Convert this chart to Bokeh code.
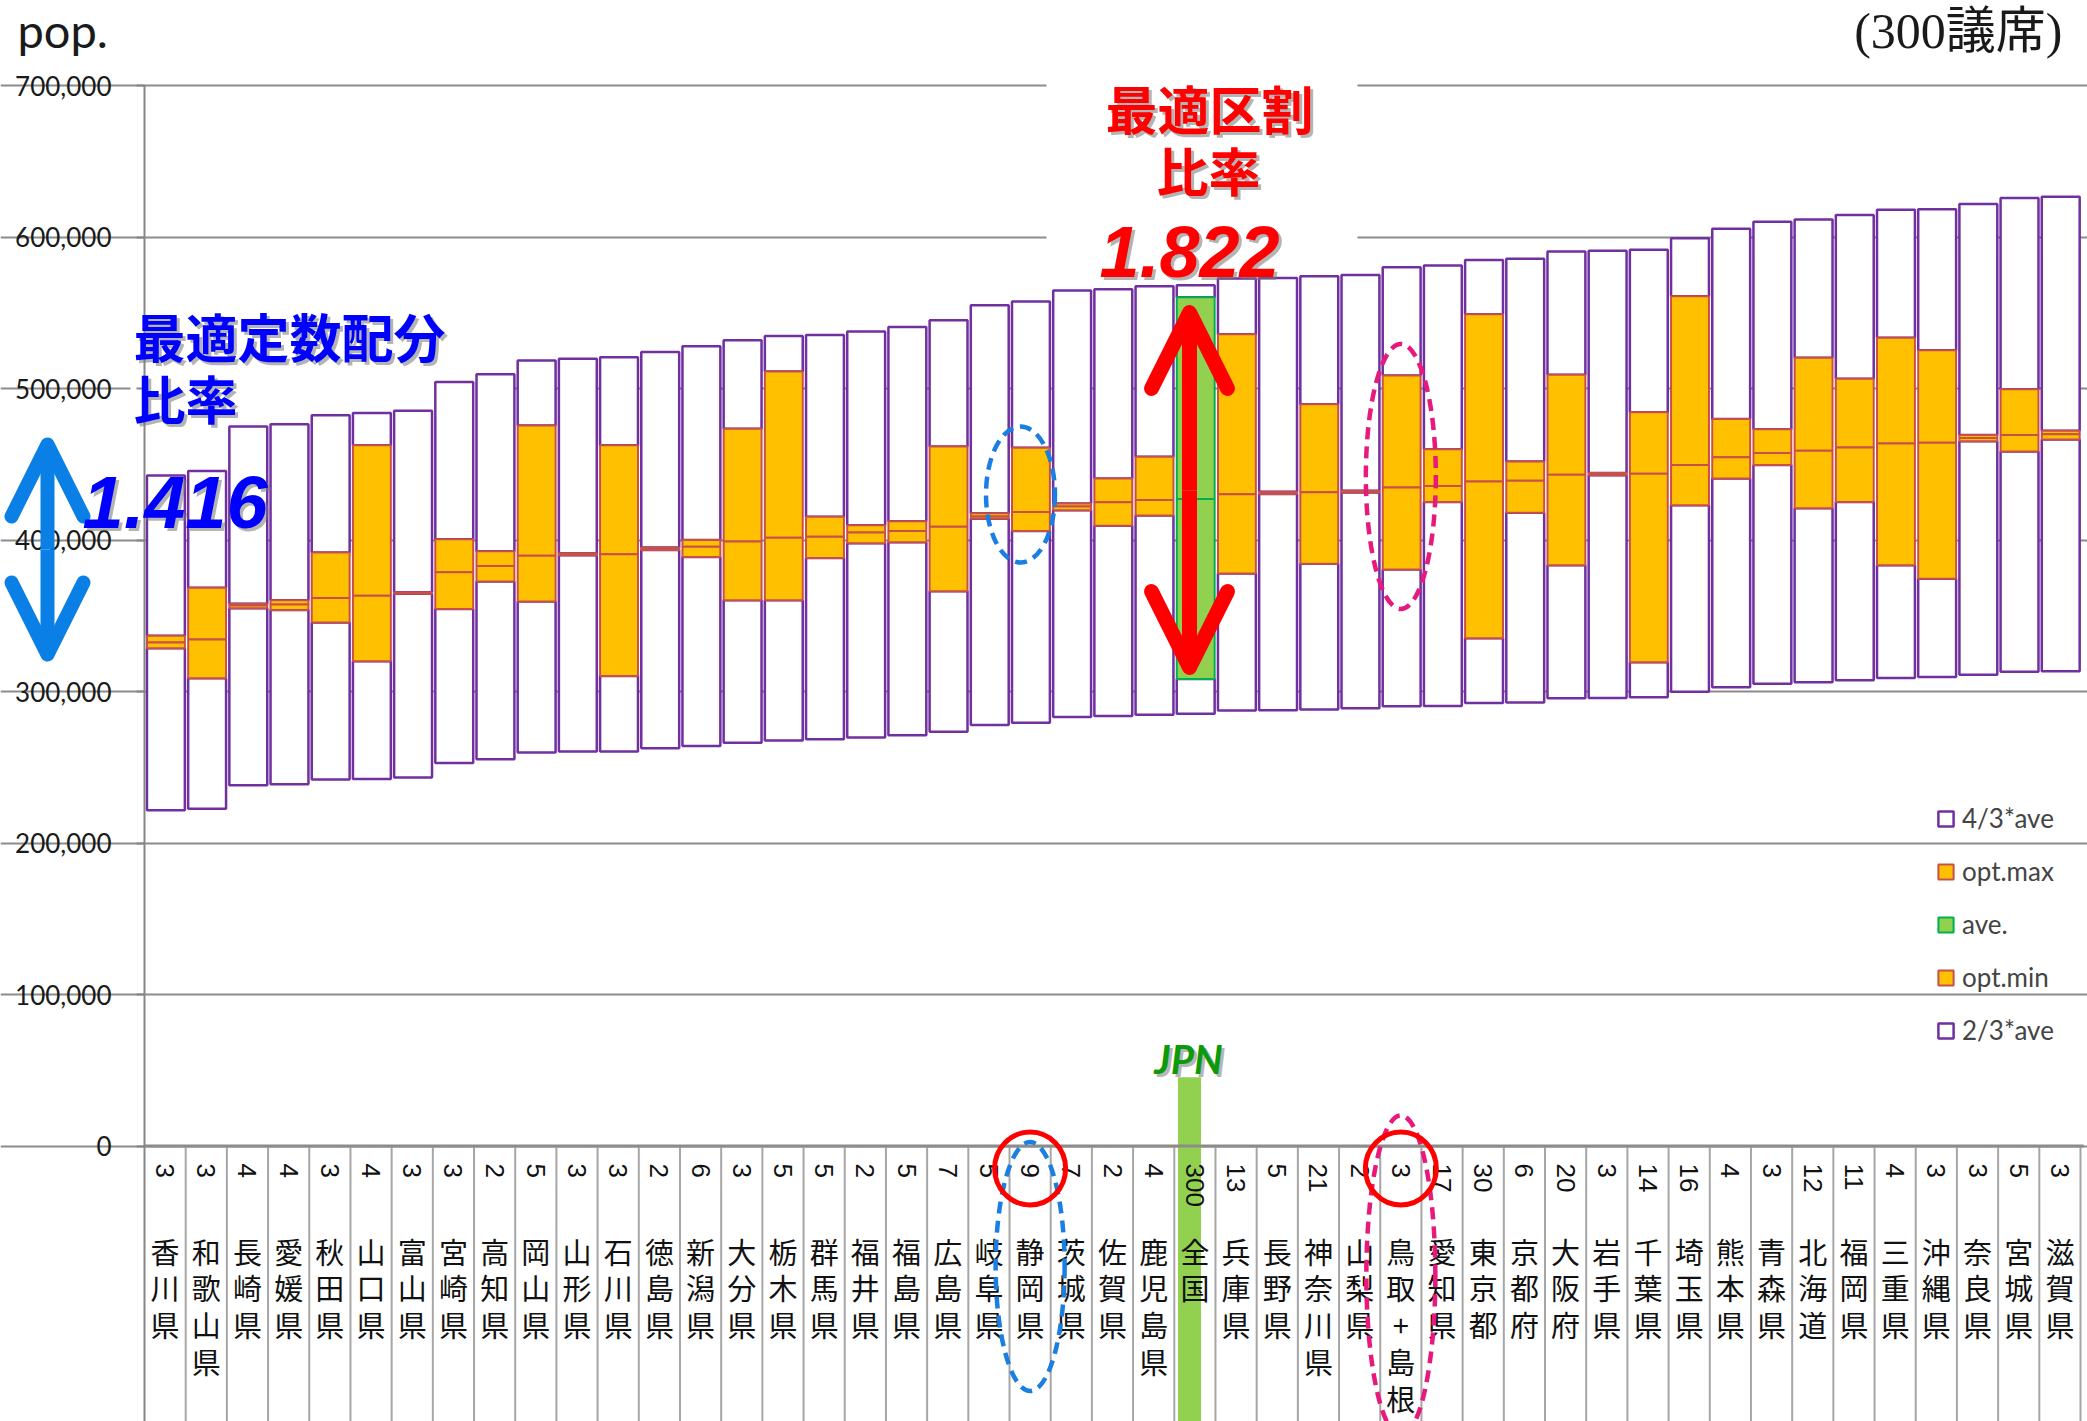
import math
from bokeh.plotting import figure
from bokeh.models import (ColumnDataSource, Range1d, FixedTicker, NumeralTickFormatter,
                          Label, Arrow, OpenHead, BoxAnnotation, Legend, LegendItem)
from bokeh.core.properties import value
from bokeh.embed import file_html
from bokeh.resources import INLINE

# ---------------- data ----------------
names = ["香川県", "和歌山県", "長崎県", "愛媛県", "秋田県", "山口県", "富山県", "宮崎県", "高知県", "岡山県",
         "山形県", "石川県", "徳島県", "新潟県", "大分県", "栃木県", "群馬県", "福井県", "福島県", "広島県",
         "岐阜県", "静岡県", "茨城県", "佐賀県", "鹿児島県", "全国", "兵庫県", "長野県", "神奈川県", "山梨県",
         "鳥取+島根", "愛知県", "東京都", "京都府", "大阪府", "岩手県", "千葉県", "埼玉県", "熊本県", "青森県",
         "北海道", "福岡県", "三重県", "沖縄県", "奈良県", "宮城県", "滋賀県"]
seats = [3, 3, 4, 4, 3, 4, 3, 3, 2, 5,
         3, 3, 2, 6, 3, 5, 5, 2, 5, 7,
         5, 9, 7, 2, 4, 300, 13, 5, 21, 2,
         3, 17, 30, 6, 20, 3, 14, 16, 4, 3,
         12, 11, 4, 3, 3, 5, 3]
upper = [442600, 445600, 475000, 476500, 482400, 483800, 485300, 504400, 509400, 518500,
         519700, 520600, 524100, 527900, 531800, 534700, 535300, 537600, 540600, 545000,
         555000, 557400, 564700, 565600, 567600, 568200, 572600, 572900, 574100, 575000,
         580000, 581300, 584800, 585700, 590400, 591000, 591600, 599200, 605400, 610100,
         611600, 614600, 618100, 618400, 621900, 625800, 626600]
opt_max = [336800, 368500, 357900, 360300, 391800, 462600, 365600, 400600, 392600, 475600,
           391200, 462600, 395000, 400000, 473500, 511200, 415300, 409700, 412400, 461800,
           417600, 460900, 424100, 440600, 455000, 560300, 535900, 431800, 489700, 432600,
           508600, 459900, 549100, 451900, 509100, 444200, 484300, 560900, 479900, 473100,
           520300, 506400, 533500, 525300, 469300, 499600, 472200]
ave = [332400, 334400, 356800, 357400, 361800, 363200, 365000, 378800, 382900, 389700,
       390600, 390600, 394100, 395600, 399100, 401500, 402100, 405000, 405900, 408800,
       415600, 418500, 422100, 425000, 426500, 427100, 430300, 431000, 431500, 432000,
       434700, 435700, 438700, 439200, 443100, 443300, 443700, 449600, 454600, 457500,
       459000, 461100, 463700, 464300, 467400, 469300, 469900]
opt_min = [328500, 308800, 355000, 353800, 345600, 320000, 364500, 354400, 372600, 359400,
           390000, 310300, 393500, 388800, 360300, 360300, 388200, 397900, 398500, 366200,
           414100, 405900, 419700, 409400, 416200, 308200, 377900, 430400, 384400, 431400,
           380600, 425100, 335200, 418000, 383300, 442700, 319300, 423000, 440700, 449600,
           421000, 425100, 383300, 374400, 465200, 458400, 466400]
lower = [221600, 222700, 238100, 238800, 241900, 242300, 243200, 252900, 255300, 259700,
         260400, 260400, 262600, 264000, 266200, 267600, 268500, 269700, 271200, 273500,
         277900, 279400, 283200, 283800, 284700, 285300, 287400, 287600, 288200, 289000,
         290300, 290500, 292500, 292800, 295500, 295800, 296300, 299900, 302800, 305200,
         306100, 307500, 309000, 309600, 311100, 313100, 313400]
legend_labels = ["4/3*ave", "opt.max", "ave.", "opt.min", "2/3*ave"]
y_ticks = [0, 100000, 200000, 300000, 400000, 500000, 600000, 700000]
jpn_marker = 45400

# ---------------- geometry ----------------
W, H = 2087, 1421
AX_PX = 144                       # canvas x of the value axis
n = len(names)
CW = (W - AX_PX - 7) / n          # px per category
S = (1145.5 - 84) / 700700        # px per unit (0 at y=1145.5, 700k at y=84.5)


def X(px):
    return (px - AX_PX) / CW


def Y(py):
    return (1145.5 - py) / S


Y_BOT = Y(H)

p = figure(width=W, height=H, output_backend="svg", toolbar_location=None,
           x_range=Range1d(X(0), X(W)), y_range=Range1d(Y(H), Y(0)),
           x_axis_location=None,
           min_border_left=0, min_border_right=0, min_border_top=0, min_border_bottom=0)
p.outline_line_color = None
p.background_fill_color = "white"
p.border_fill_color = "white"
p.xgrid.visible = False
p.ygrid.grid_line_color = "#8c8c8c"
p.ygrid.grid_line_width = 2
p.ygrid.bounds = (0, n + 0.08)
ax = p.yaxis[0]
ax.fixed_location = 0
ax.bounds = (Y_BOT, 700000)
ax.ticker = FixedTicker(ticks=y_ticks)
ax.formatter = NumeralTickFormatter(format="0,0")
ax.axis_line_color = "#868686"
ax.axis_line_width = 2
ax.major_tick_line_color = "#868686"
ax.major_tick_line_width = 2
ax.major_tick_out = 8
ax.major_tick_in = 0
ax.minor_tick_line_color = None
ax.major_label_standoff = 25
ax.major_label_text_font = "Lato"
ax.major_label_text_font_size = "26px"
ax.major_label_text_color = "#1a1a1a"

# white masks behind the annotation texts (hide grid lines only)
p.add_layout(BoxAnnotation(left=X(130), right=X(490), bottom=Y(492), top=Y(300),
                           fill_color="white", fill_alpha=1, line_color=None, level="underlay"))
p.add_layout(BoxAnnotation(left=X(1046), right=X(1357), bottom=Y(282), top=Y(70),
                           fill_color="white", fill_alpha=1, line_color=None, level="underlay"))

# ---------------- bars ----------------
jp = names.index("全国")
idx_pref = [i for i in range(n) if i != jp]
all_src = ColumnDataSource(dict(
    left=[i + 0.06 for i in range(n)], right=[i + 0.98 for i in range(n)],
    upper=upper, omax=opt_max, ave=ave, omin=opt_min, lower=lower))
pref_src = ColumnDataSource(dict(
    left=[i + 0.06 for i in idx_pref], right=[i + 0.98 for i in idx_pref],
    omax=[opt_max[i] for i in idx_pref], ave=[ave[i] for i in idx_pref],
    omin=[opt_min[i] for i in idx_pref]))
jp_src = ColumnDataSource(dict(
    left=[jp + 0.06] * 2, right=[jp + 0.98] * 2,
    bottom=[opt_min[jp], ave[jp]], top=[ave[jp], opt_max[jp]]))

PURPLE = "#7030A0"
ORANGE = "#FFC000"
ORLINE = "#C8504A"
GREEN = "#92D050"

r_top = p.quad(left="left", right="right", bottom="omax", top="upper", source=all_src,
               fill_color="white", line_color=PURPLE, line_width=2.5)
r_bot = p.quad(left="left", right="right", bottom="lower", top="omin", source=all_src,
               fill_color="white", line_color=PURPLE, line_width=2.5)
r_omax = p.quad(left="left", right="right", bottom="ave", top="omax", source=pref_src,
                fill_color=ORANGE, line_color=ORLINE, line_width=2)
r_omin = p.quad(left="left", right="right", bottom="omin", top="ave", source=pref_src,
                fill_color=ORANGE, line_color=ORLINE, line_width=2)
r_ave = p.quad(left="left", right="right", bottom="bottom", top="top", source=jp_src,
               fill_color=GREEN, line_color="#00B050", line_width=2)

# ---------------- label table below zero ----------------
p.quad(left=[jp + 0.09], right=[jp + 0.65], bottom=[Y_BOT], top=[jpn_marker],
       fill_color=GREEN, line_color=None)
p.segment(x0=list(range(1, n + 1)), y0=[0] * n, x1=list(range(1, n + 1)), y1=[Y_BOT] * n,
          line_color="#a6a6a6", line_width=2)
p.segment(x0=[0], y0=[0], x1=[n + 0.08], y1=[0], line_color="#8c8c8c", line_width=3)

xc = [i + 0.5 for i in range(n)]
p.text(x=xc, y=[Y(1163)] * n, text=[str(s) for s in seats], angle=-math.pi / 2,
       text_align="left", text_baseline="middle", text_font=value("Liberation Sans"),
       text_font_size="26px", text_color="#111111")
p.text(x=xc, y=[Y(1229)] * n, text=["\n".join(list(nm)) for nm in names],
       text_align="center", text_baseline="top", text_font=value("Noto Sans CJK JP"),
       text_font_size="29px", text_line_height=0.88, text_color="#111111")

# ---------------- legend ----------------
rends = [r_top, r_omax, r_ave, r_omin, r_bot]
legend = Legend(items=[LegendItem(label=l, renderers=[r]) for l, r in zip(legend_labels, rends)],
                location=(1936, H - 807 - 239), padding=0, margin=0,
                glyph_width=19, glyph_height=19, label_height=31, spacing=21,
                label_standoff=7, label_text_font="Lato", label_text_font_size="26px",
                background_fill_alpha=0, border_line_alpha=0)
p.add_layout(legend)

# ---------------- annotations ----------------
shi = names.index("静岡県")
tot = names.index("鳥取+島根")


def ell(x, y, w, h, color, width=4.5, dash="12 7"):
    p.ellipse(x=[x], y=[y], width=[w / CW], height=[h / S], fill_alpha=0, line_color=color,
              line_width=width, line_dash=dash)


ell(X(1020), Y(494), 69, 136, "#1a7fe0")
ell(shi + 0.5, Y(1266), 69, 249, "#1a7fe0")
ell(tot + 0.5, Y(476), 70, 265, "#e8197d")
ell(tot + 0.5, Y(1275), 69, 320, "#e8197d")
for k in (shi, tot):
    ell(k + 0.5, Y(1168), 71, 73, "#ff0000", width=5, dash="solid")


def double_arrow(xpx, ymid, ytop, ybot, color, lw, size):
    for yend in (ytop, ybot):
        p.add_layout(Arrow(x_start=X(xpx), y_start=Y(ymid), x_end=X(xpx), y_end=Y(yend),
                           line_color=color, line_width=lw,
                           end=OpenHead(size=size, line_color=color, line_width=lw,
                                        line_cap="round", line_join="round")))


double_arrow(47, 549, 444, 654, "#0a80e6", 14, 72)
double_arrow(1189, 490, 312, 667, "#ff0000", 15, 76)


def lab(xpx, ypx, text, color, font, size, style="normal", align="left", shadow=True):
    if shadow:
        p.add_layout(Label(x=X(xpx), y=Y(ypx), x_offset=3, y_offset=-3, text=text,
                           text_color="#777777", text_alpha=0.55, text_font=font,
                           text_font_size=size, text_font_style=style, text_align=align,
                           text_baseline="middle"))
    p.add_layout(Label(x=X(xpx), y=Y(ypx), text=text, text_color=color, text_font=font,
                       text_font_size=size, text_font_style=style, text_align=align,
                       text_baseline="middle"))


CJK = "Noto Sans CJK JP"
lab(133, 335, "最適定数配分", "#0000ff", CJK, "52px", "bold")
lab(133, 397, "比率", "#0000ff", CJK, "52px", "bold")
lab(82, 501, "1.416", "#0000ff", "Liberation Sans", "74px", "bold italic")
lab(1209, 107, "最適区割", "#ff0000", CJK, "52px", "bold", align="center")
lab(1208, 169, "比率", "#ff0000", CJK, "52px", "bold", align="center")
lab(1189, 251, "1.822", "#ff0000", "Liberation Sans", "72px", "bold italic", align="center")
lab(1188, 1058, "JPN", "#0a9a0a", "Lato", "40px", "bold italic", align="center")
lab(17, 29, "pop.", "#1a1a1a", "Lato", "47px", shadow=False)
lab(2062, 30, "(300議席)", "#1a1a1a", "'Liberation Serif', 'Noto Sans CJK JP'", "50px",
    align="right", shadow=False)

open("out.html", "w").write(file_html(p, INLINE))
